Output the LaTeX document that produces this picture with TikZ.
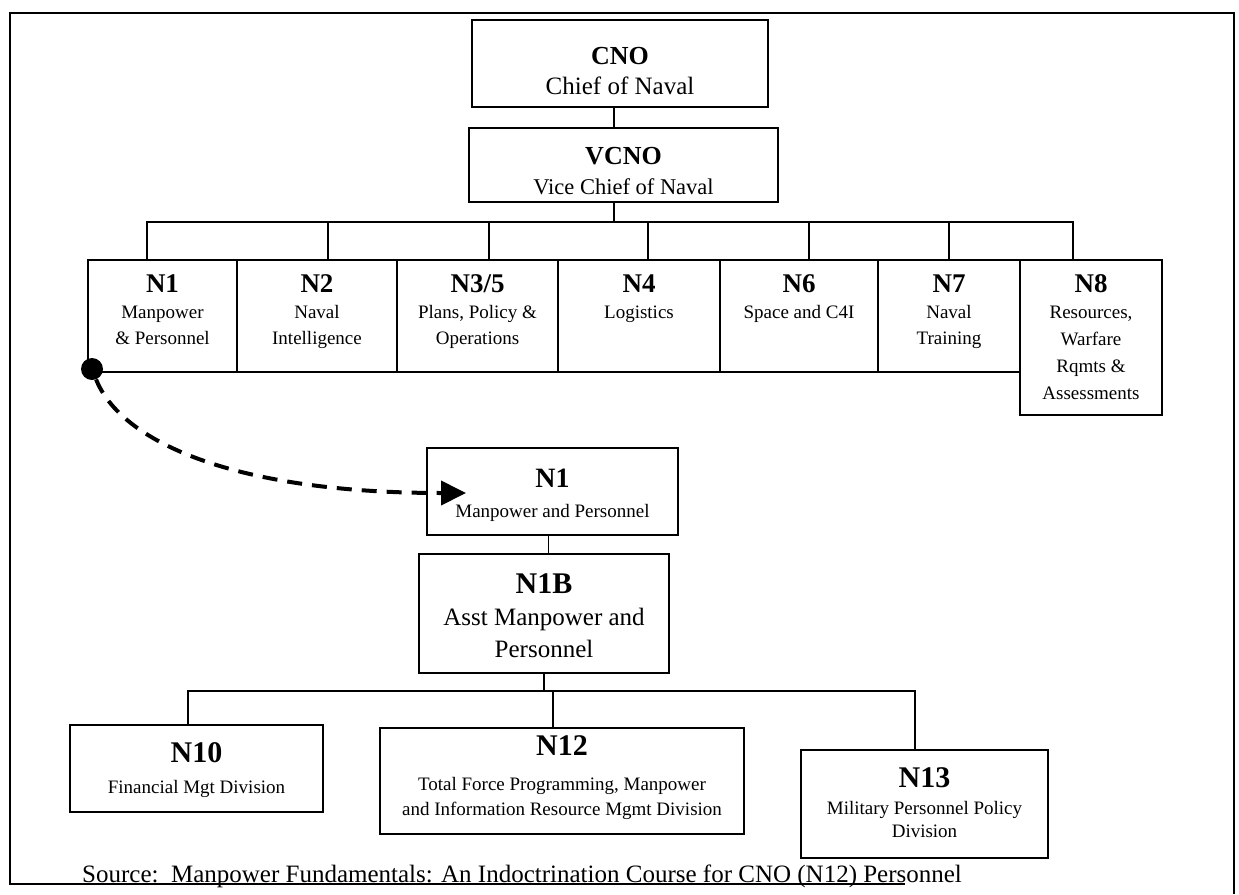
\documentclass[tikz,border=0pt]{standalone}
\usepackage{fontspec}
\setmainfont{Liberation Serif}
\usetikzlibrary{arrows.meta}
\tikzset{
  box/.style={draw, line width=1.6pt, inner sep=0pt, rectangle},
  conn/.style={draw, line width=1.3pt},
  frame/.style={draw, line width=1.8pt},
  ttl/.style={font=\fontsize{27}{30}\selectfont\bfseries, anchor=base, inner sep=0pt},
  bigttl/.style={font=\fontsize{30}{33}\selectfont\bfseries, anchor=base, inner sep=0pt},
  sub/.style={font=\fontsize{19}{22}\selectfont, anchor=base, inner sep=0pt},
  bigsub/.style={font=\fontsize{25}{28}\selectfont, anchor=base, inner sep=0pt},
}
\begin{document}
\begin{tikzpicture}[x=1pt,y=-1pt]
\useasboundingbox (0,0) rectangle (1239,894);
% frame
\draw[frame] (905,884) -- (10,884) -- (10,13) -- (1234,13) -- (1234,894);
% top boxes
\node[box, minimum width=296pt, minimum height=87pt] (CNO) at (620,63.5) {};
\node[ttl, font=\fontsize{26}{30}\selectfont\bfseries] (CNOt) at (620,64) {CNO};
\node[bigsub] (CNOs) at (620,94) {Chief of Naval};
\node[box, minimum width=309pt, minimum height=74pt] (VCNO) at (623.5,165) {};
\node[ttl, font=\fontsize{26}{30}\selectfont\bfseries] (VCNOt) at (623.5,164.5) {VCNO};
\node[sub, font=\fontsize{22.5}{26}\selectfont] (VCNOs) at (623.5,194.5) {Vice Chief of Naval};
\coordinate (vbus) at (614,222);
\draw[conn] (vbus |- CNO.south) -- (vbus |- VCNO.north);
% row of directorates
\node[box, minimum width=149pt, minimum height=112pt] (N1) at (162.5,316) {};
\node[box, minimum width=160pt, minimum height=112pt] (N2) at (317,316) {};
\node[box, minimum width=161pt, minimum height=112pt] (N35) at (477.5,316) {};
\node[box, minimum width=162pt, minimum height=112pt] (N4) at (639,316) {};
\node[box, minimum width=158pt, minimum height=112pt] (N6) at (799,316) {};
\node[box, minimum width=142pt, minimum height=112pt] (N7) at (949,316) {};
\node[box, minimum width=142pt, minimum height=155pt] (N8) at (1091,337.5) {};
\node[ttl] (N1t) at (162.5,292) {N1};
\node[sub] (N1a) at (162.5,318) {Manpower};
\node[sub] (N1b) at (162.5,344) {\& Personnel};
\node[ttl] (N2t) at (317,292) {N2};
\node[sub] (N2a) at (317,318) {Naval};
\node[sub] (N2b) at (317,344) {Intelligence};
\node[ttl] (N35t) at (477.5,292) {N3/5};
\node[sub] (N35a) at (477.5,318) {Plans, Policy \&};
\node[sub] (N35b) at (477.5,344) {Operations};
\node[ttl] (N4t) at (639,292) {N4};
\node[sub] (N4a) at (639,318) {Logistics};
\node[ttl] (N6t) at (799,292) {N6};
\node[sub] (N6a) at (799,318) {Space and C4I};
\node[ttl] (N7t) at (949,292) {N7};
\node[sub] (N7a) at (949,318) {Naval};
\node[sub] (N7b) at (949,344) {Training};
\node[ttl] (N8t) at (1091,292) {N8};
\node[sub] (N8a) at (1091,318) {Resources,};
\node[sub] (N8b) at (1091,345) {Warfare};
\node[sub] (N8c) at (1091,372) {Rqmts \&};
\node[sub] (N8d) at (1091,399) {Assessments};
% bus from VCNO
\draw[conn] (vbus |- VCNO.south) -- (vbus);
\draw[conn] ([xshift=-15.5pt]N1.north) |- (vbus);
\draw[conn] ([xshift=-18pt]N8.north) |- (vbus);
\draw[conn] ([xshift=11pt]N2.north) -- ([xshift=11pt]N2.north |- vbus);
\draw[conn] ([xshift=11.5pt]N35.north) -- ([xshift=11.5pt]N35.north |- vbus);
\draw[conn] ([xshift=9pt]N4.north) -- ([xshift=9pt]N4.north |- vbus);
\draw[conn] ([xshift=10pt]N6.north) -- ([xshift=10pt]N6.north |- vbus);
\draw[conn] (N7.north) -- (N7.north |- vbus);
% dot and dashed arrow
\node[circle, fill=black, inner sep=0pt, minimum size=22pt] (dot) at (92,369) {};
\coordinate (tip) at (466,493);
% lower chart
\node[box, minimum width=251pt, minimum height=87pt] (M1) at (552.5,491.5) {};
\node[ttl, font=\fontsize{28}{31}\selectfont\bfseries] (M1t) at (552.5,487) {N1};
\node[sub] (M1s) at (552.5,517) {Manpower and Personnel};
\draw[line width=4pt, dash pattern=on 15pt off 10pt, -{Triangle[length=25pt,width=24pt]}]
  (dot) .. controls (120,440) and (230,493) .. (tip);
\node[box, minimum width=250pt, minimum height=119pt] (N1B) at (544,613.5) {};
\node[bigttl] (N1Bt) at (544,593) {N1B};
\node[bigsub] (N1Ba) at (544,625) {Asst Manpower and};
\node[bigsub] (N1Bb) at (544,657) {Personnel};
\draw[conn] ([xshift=-4pt]M1.south) -- ([xshift=-4pt]M1.south |- N1B.north);
\node[box, minimum width=253pt, minimum height=87pt] (N10) at (196.5,768.5) {};
\node[bigttl] (N10t) at (196.5,762) {N10};
\node[sub] (N10s) at (196.5,793) {Financial Mgt Division};
\node[box, minimum width=364pt, minimum height=106pt] (N12) at (562,781) {};
\node[bigttl] (N12t) at (562,755) {N12};
\node[sub] (N12a) at (562,790) {Total Force Programming, Manpower};
\node[sub] (N12b) at (562,815) {and Information Resource Mgmt Division};
\node[box, minimum width=247pt, minimum height=108pt] (N13) at (924.5,804) {};
\node[bigttl] (N13t) at (924.5,787) {N13};
\node[sub] (N13a) at (924.5,814) {Military Personnel Policy};
\node[sub] (N13b) at (924.5,837) {Division};
\coordinate (bus2) at (544,691);
\draw[conn] (N1B.south) -- (bus2);
\draw[conn] ([xshift=-8.5pt]N10.north) |- (bus2);
\draw[conn] ([xshift=-9.5pt]N13.north) |- (bus2);
\draw[conn] ([xshift=-9pt]N12.north) -- ([xshift=-9pt]N12.north |- bus2);
% source
\node[bigsub, anchor=base west] (src) at (82,882) {Source:\ \ Manpower Fundamentals: An Indoctrination Course for CNO (N12) Personnel};
\end{tikzpicture}
\end{document}
